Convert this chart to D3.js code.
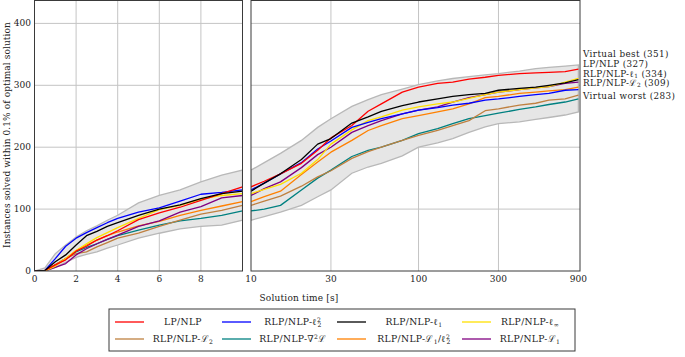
<!DOCTYPE html>
<html><head><meta charset="utf-8">
<script src="https://cdn.jsdelivr.net/npm/d3@7"></script>
<style>
html,body{margin:0;padding:0;background:#fff;}
svg{display:block;font-family:"DejaVu Serif",serif;}
</style></head>
<body><svg id="c" width="685" height="357"></svg>
<script>
// ---- data ----
const times = [0,0.5,1,1.5,2,2.5,3,3.5,4,5,6,7,8,9,10, 12,15,20,25,30,40,50,60,80,100,130,160,200,250,300,400,500,600,750,900];
const lpnlp   = [0,1,10,18,32,40,50,57,65,83,94,103,114,125,136, 145,157,174,195,215,235,258,270,289,297,303,305,310,313,316,319,320,321,322,326];
const l22     = [0,1,20,40,53,62,70,78,85,95,102,113,124,127,131, 142,157,175,197,210,232,240,246,254,260,264,268,271,276,278,282,285,287,292,293];
const l1      = [0,1,15,26,42,57,64,72,78,90,100,107,117,125,129, 142,157,180,205,214,239,249,258,267,273,278,282,285,287,292,295,297,300,304,309];
const linf    = [0,0,8,20,33,44,54,62,70,85,99,106,116,122,125, 132,140,158,180,205,228,243,249,260,265,270,273,279,285,289,293,296,298,305,311];
const calL2   = [0,0,10,20,28,31,39,46,53,61,72,82,92,98,106, 113,121,137,152,162,182,193,200,211,219,227,235,243,259,262,268,271,276,278,284];
const hessL   = [0,0,10,20,31,38,44,51,57,66,74,81,85,90,97, 100,106,131,150,163,185,195,200,211,222,230,238,246,251,255,261,265,269,273,278];
const calL1l22= [0,0,10,20,33,42,50,57,63,73,80,90,98,105,112, 120,129,156,176,192,211,227,235,246,251,257,262,270,280,282,287,289,291,293,297];
const calL1   = [0,0,6,12,26,36,44,51,58,72,81,95,104,118,122, 133,144,167,188,200,224,235,243,254,260,265,273,280,285,289,293,296,298,303,305];
const virtualBest  = [0,5,28,42,55,65,73,82,90,110,122,131,144,155,163, 175,190,211,232,246,266,277,285,294,301,307,311,314,317,319,323,327,329,331,333];
const virtualWorst = [0,0,6,14,22,27,31,37,42,53,61,68,72,74,82, 88,95,106,120,131,158,168,174,186,200,207,214,224,233,238,241,245,248,252,257];

const seriesNames = ["LP/NLP","RLP/NLP-l22","RLP/NLP-l1","RLP/NLP-linf","RLP/NLP-L2","RLP/NLP-hessL","RLP/NLP-L1/l22","RLP/NLP-L1"];
const seriesValues = [lpnlp,l22,l1,linf,calL2,hessL,calL1l22,calL1];
const seriesColors = ["#ff0000","#0000ff","#000000","#ffe000","#bf8040","#008080","#ff8000","#800080"];
const drawOrder = [5,4,6,7,3,1,0,2];

const yTicks = [0,100,200,300,400];
const xTicksLeft = [0,2,4,6,8];
const xGridLeft = [2,4,6,8];
const xTicksRight = [10,30,100,300,900];
const xGridRight = [30,100,300];

const endLabels = [
  {parts:[{t:"Virtual best (351)"}], v:351},
  {parts:[{t:"LP/NLP (327)"}], v:327},
  {parts:[{t:"RLP/NLP-ℓ"},{t:"1",sub:true},{t:" (334)"}], v:334},
  {parts:[{t:"RLP/NLP-ℒ"},{t:"2",sub:true},{t:" (309)"}], v:309},
  {parts:[{t:"Virtual worst (283)"}], v:283}
];
const legendParts = [
  [{t:"LP/NLP"}],
  [{t:"RLP/NLP-ℓ"},{t:"2",sup:true},{t:"2",sub:true,back:true}],
  [{t:"RLP/NLP-ℓ"},{t:"1",sub:true}],
  [{t:"RLP/NLP-ℓ"},{t:"∞",sub:true}],
  [{t:"RLP/NLP-ℒ"},{t:"2",sub:true}],
  [{t:"RLP/NLP-∇"},{t:"2",sup:true},{t:"ℒ"}],
  [{t:"RLP/NLP-ℒ"},{t:"1",sub:true},{t:"/ℓ"},{t:"2",sup:true},{t:"2",sub:true,back:true}],
  [{t:"RLP/NLP-ℒ"},{t:"1",sub:true}]
];

// ---- layout ----
const svg = d3.select("#c");
const y = d3.scaleLinear().domain([0,437]).range([271,0.5]);
const xL = d3.scaleLinear().domain([0,10]).range([34.5,242.5]);
const xR = d3.scaleLog().domain([10,920]).range([251,580]);
const gridC = "#c4c4c4", frameC = "#3a3a3a";

function rich(sel, parts, fs, subDrop){
  let cur = 0;
  parts.forEach(p=>{
    const ts = sel.append("tspan").text(p.t);
    const target = p.sup ? -0.36*fs : (p.sub ? subDrop*fs : 0);
    if (target-cur !== 0) ts.attr("dy", target-cur);
    cur = target;
    if (p.sup||p.sub) ts.attr("font-size", fs*0.66);
    if (p.back) ts.attr("dx", -fs*0.66*0.64);
  });
}

function panel(x, tFilter, xGrid, xTicks, id){
  const [x0,x1] = x.range();
  const g = svg.append("g");
  const clipId = "clip"+id;
  svg.append("clipPath").attr("id",clipId).append("rect")
    .attr("x",x0).attr("y",0).attr("width",x1-x0).attr("height",271);
  g.selectAll(".gx").data(xGrid).join("line")
    .attr("x1",d=>x(d)).attr("x2",d=>x(d)).attr("y1",0).attr("y2",271)
    .attr("stroke",gridC).attr("stroke-width",1);
  g.selectAll(".gy").data(yTicks.slice(1)).join("line")
    .attr("x1",x0).attr("x2",x1).attr("y1",d=>y(d)).attr("y2",d=>y(d))
    .attr("stroke",gridC).attr("stroke-width",1);
  const idx = times.map((t,i)=>i).filter(i=>tFilter(times[i]));
  const pg = g.append("g").attr("clip-path",`url(#${clipId})`);
  const area = d3.area().x(i=>x(times[i])).y0(i=>y(virtualWorst[i])).y1(i=>y(virtualBest[i]));
  pg.append("path").attr("d",area(idx)).attr("fill","#e6e6e6")
    .attr("stroke","#b8b8b8").attr("stroke-width",1.3);
  const line = d3.line().x(i=>x(times[i]));
  drawOrder.forEach(s=>{
    pg.append("path").attr("d", line.y(i=>y(seriesValues[s][i]))(idx))
      .attr("fill","none").attr("stroke",seriesColors[s]).attr("stroke-width",1.3)
      .attr("stroke-linejoin","round");
  });
  g.append("rect").attr("x",x0).attr("y",0.5).attr("width",x1-x0).attr("height",270.5)
    .attr("fill","none").attr("stroke",frameC).attr("stroke-width",1);
  g.selectAll(".xt").data(xTicks).join("text")
    .attr("x",d=>x(d)).attr("y",282).attr("text-anchor","middle")
    .attr("font-size",9).attr("fill","#222").text(d=>d);
}

panel(xL, t=>t<=10, xGridLeft, xTicksLeft, "L");
panel(xR, t=>t>=10, xGridRight, xTicksRight, "R");

svg.selectAll(".yt").data(yTicks).join("text")
  .attr("x",31).attr("y",d=>y(d)+3).attr("text-anchor","end")
  .attr("font-size",9).attr("fill","#222").text(d=>d);

svg.append("text").attr("transform","translate(10,135) rotate(-90)")
  .attr("text-anchor","middle").attr("font-size",9).attr("fill","#222")
  .attr("letter-spacing",0.1)
  .text("Instances solved within 0.1% of optimal solution");
svg.append("text").attr("x",299).attr("y",301).attr("text-anchor","middle")
  .attr("font-size",9).attr("fill","#222").attr("letter-spacing",0.2)
  .text("Solution time [s]");

const yBest = y(endLabels[0].v), yWorst = y(endLabels[4].v);
endLabels.forEach((L,k)=>{
  let yy;
  if (k===0) yy = yBest; else if (k===4) yy = yWorst; else yy = yBest + 10.5 + (k-1)*9.3;
  const t = svg.append("text").attr("x",583).attr("y",yy+3)
    .attr("font-size",8.8).attr("fill","#222").attr("letter-spacing",0.4);
  rich(t, L.parts, 8.8, 0.12);
});

const lg = svg.append("g");
lg.append("rect").attr("x",109).attr("y",309).attr("width",466).attr("height",42)
  .attr("fill","#fff").attr("stroke",frameC).attr("stroke-width",1);
const colLine = [115,222,337,462], colText=[183,293,414,530], rowY=[322,339];
seriesNames.forEach((n,i)=>{
  const c = i%4, r = Math.floor(i/4);
  lg.append("line").attr("x1",colLine[c]).attr("x2",colLine[c]+29)
    .attr("y1",rowY[r]).attr("y2",rowY[r]).attr("stroke",seriesColors[i]).attr("stroke-width",1.3);
  const t = lg.append("text").attr("x",colText[c]).attr("y",rowY[r]+3)
    .attr("text-anchor","middle").attr("font-size",9.2).attr("fill","#222")
    .attr("letter-spacing",0.35);
  rich(t, legendParts[i], 9.2, 0.24);
});
</script></body></html>
